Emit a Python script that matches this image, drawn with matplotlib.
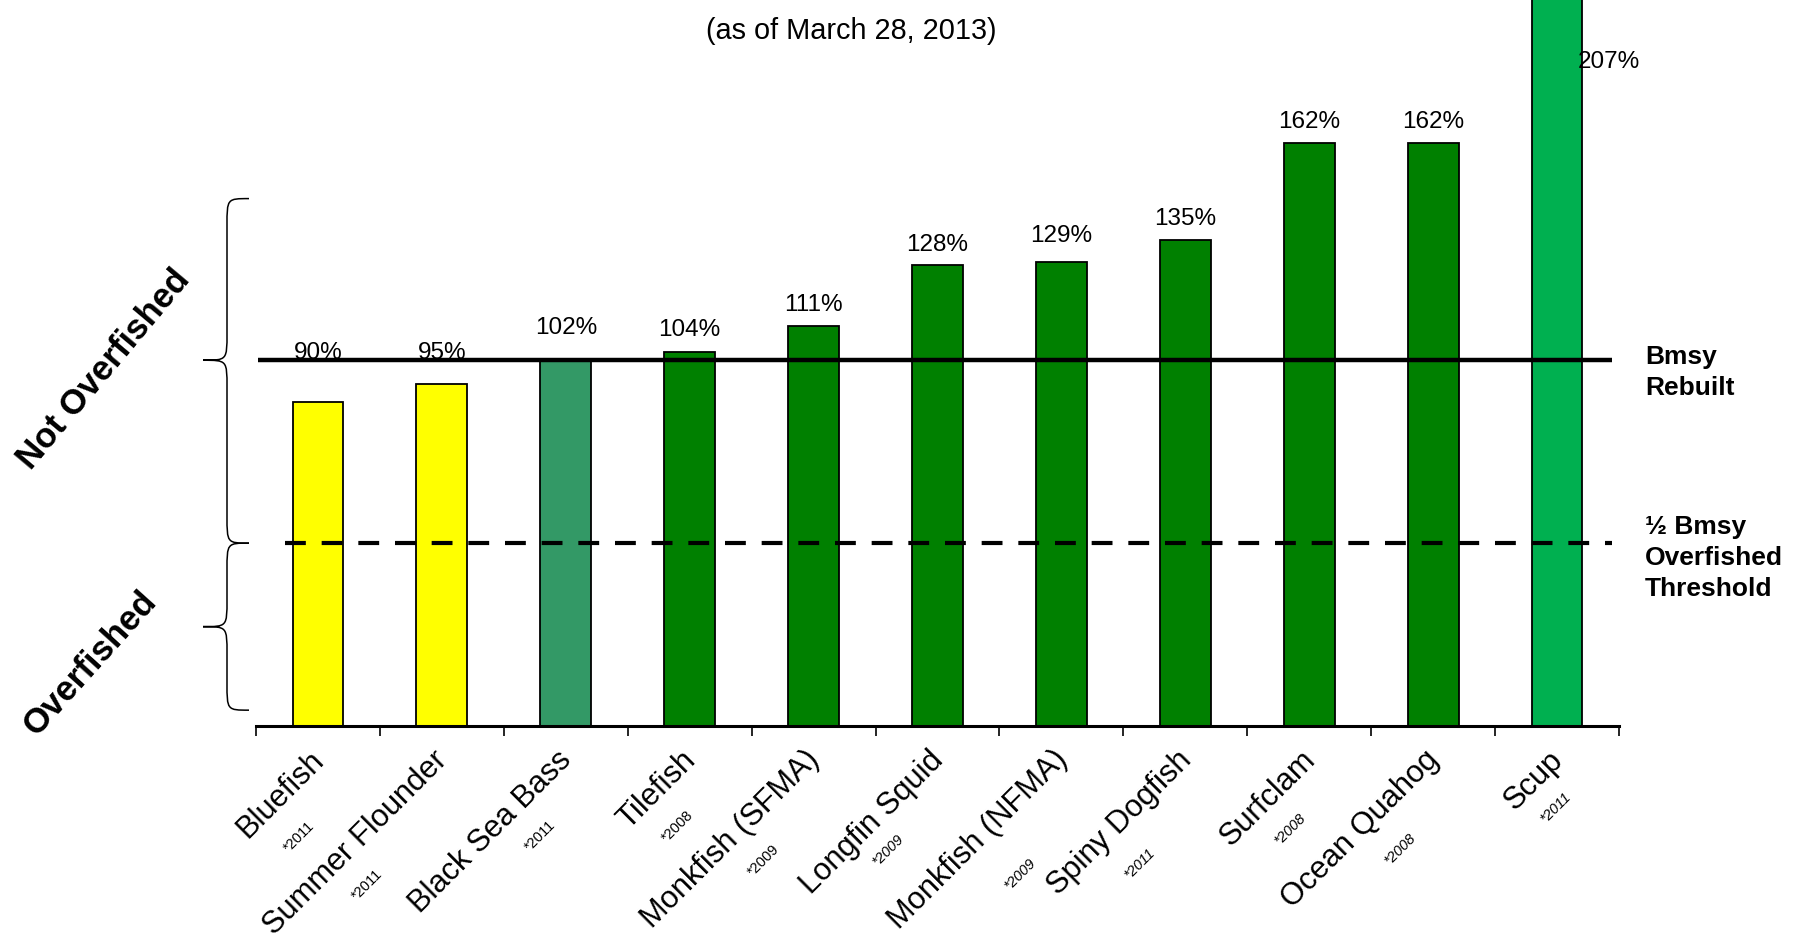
import matplotlib
matplotlib.use("Agg")
import matplotlib.pyplot as plt
import matplotlib.transforms as mtransforms
from matplotlib.path import Path
from matplotlib.patches import PathPatch
import numpy as np

plt.rcParams["font.family"] = ["Liberation Sans", "DejaVu Sans"]

# ── data ─────────────────────────────────────────────────────────────────────
species = ["Bluefish", "Summer Flounder", "Black Sea Bass", "Tilefish",
           "Monkfish (SFMA)", "Longfin Squid", "Monkfish (NFMA)",
           "Spiny Dogfish", "Surfclam", "Ocean Quahog", "Scup"]
assess_year = ["*2011", "*2011", "*2011", "*2008", "*2009", "*2009",
               "*2009", "*2011", "*2008", "*2008", "*2011"]
pct_bmsy = [90, 95, 102, 104, 111, 128, 129, 135, 162, 162, 207]
bar_colors = ["#FFFF00", "#FFFF00", "#339966", "#008000", "#008000", "#008000",
              "#008000", "#008000", "#008000", "#008000", "#00B050"]

bmsy_level = 101.6      # Bmsy line as drawn
half_level = 50.8       # 1/2 Bmsy line as drawn

# ── layout (pixels of the 1809x940 canvas) ──────────────────────────────────
W, H = 1809, 940
PX = 72 / 100  # px -> points
label_off = [(0, 31), (0, 18), (0, 18), (0, 11), (0, 11), (0, 10),
             (0, 14), (0, 11), (0, 11), (0, 11), (37, -63)]
fn_shift = [17, 22, -32, 11, -8, 9, -5, 15, 6, -14, 4]
fn_perp = [6, 0, 0, 3, 0, -6, 16, 5, 0, 4, -3]
fn_italic = [False] * 5 + [True] * 6

fig = plt.figure(figsize=(W / 100, H / 100), dpi=100)
ax_bottom = 726
ax = fig.add_axes([256 / W, 1 - ax_bottom / H, (1619 - 256) / W, ax_bottom / H])
ax.set_xlim(-0.5, len(species) - 0.5)
ax.set_ylim(0, ax_bottom / 3.6)

x = np.arange(len(species))
ax.bar(x, pct_bmsy, width=0.41, color=bar_colors, edgecolor="black",
       linewidth=1.3, zorder=2)

for i, v in enumerate(pct_bmsy):
    dx, dy = label_off[i]
    ax.annotate(f"{v}%", xy=(i, v), xytext=(dx, dy), textcoords="offset points",
                ha="center", va="baseline", fontsize=17.5, annotation_clip=False)

# reference lines
ax.plot([-0.484, 10.444], [bmsy_level, bmsy_level], color="black", lw=3.2,
        solid_capstyle="butt", zorder=3, clip_on=False)
ax.plot([-0.266, 10.444], [half_level, half_level], color="black", lw=3.0,
        dashes=(5, 3.8), zorder=3, clip_on=False)

# va="baseline" on multi-line text pins the last line
ax.text(10.71, bmsy_level - 9.7, "Bmsy\nRebuilt", fontsize=19, fontweight="bold",
        ha="left", va="baseline", linespacing=1.38, clip_on=False)
ax.text(10.71, half_level - 14.7, "½ Bmsy\nOverfished\nThreshold", fontsize=19,
        fontweight="bold", ha="left", va="baseline", linespacing=1.38, clip_on=False)

# axis styling
for s in ["left", "right", "top"]:
    ax.spines[s].set_visible(False)
ax.spines["bottom"].set_linewidth(2.2)
ax.set_yticks([])
ax.set_xticks(np.arange(-0.5, len(species)))
ax.set_xticklabels([])
ax.tick_params(axis="x", direction="out", length=7.2, width=1.2)

# category labels with assessment year notes
fig.canvas.draw()
renderer = fig.canvas.get_renderer()
c = np.sqrt(0.5)
anc_x, anc_y = 7, -35
for i, (name, note) in enumerate(zip(species, assess_year)):
    t = ax.annotate(name, xy=(i, 0), xytext=(anc_x * PX, anc_y * PX),
                    textcoords="offset points", rotation=45, ha="right",
                    va="baseline", rotation_mode="anchor", fontsize=22.2,
                    annotation_clip=False)
    w, _, _ = renderer.get_text_width_height_descent(name, t.get_fontproperties(), ismath=False)
    s = w / 2 + fn_shift[i]
    a = 30 + fn_perp[i]
    ox = anc_x - s * c + a * c
    oy = anc_y - s * c - a * c
    ax.annotate(note, xy=(i, 0), xytext=(ox * PX, oy * PX),
                textcoords="offset points", rotation=45, ha="center",
                va="center", rotation_mode="anchor", fontsize=10.5,
                style="italic" if fn_italic[i] else "normal",
                annotation_clip=False)

# braces on the left
def brace(y_top, y_tip, y_bot, x_tip=203, x_spine=227, x_end=249, r=7.5):
    verts = [(x_end, y_top),
             (x_spine, y_top), (x_spine, y_top), (x_spine, y_top - r),
             (x_spine, y_tip + r),
             (x_spine, y_tip), (x_spine, y_tip), (x_tip, y_tip),
             (x_spine, y_tip), (x_spine, y_tip), (x_spine, y_tip - r),
             (x_spine, y_bot + r),
             (x_spine, y_bot), (x_spine, y_bot), (x_end, y_bot)]
    codes = [Path.MOVETO, Path.CURVE4, Path.CURVE4, Path.CURVE4, Path.LINETO,
             Path.CURVE4, Path.CURVE4, Path.CURVE4,
             Path.CURVE4, Path.CURVE4, Path.CURVE4, Path.LINETO,
             Path.CURVE4, Path.CURVE4, Path.CURVE4]
    trans = mtransforms.blended_transform_factory(mtransforms.IdentityTransform(), ax.transData)
    patch = PathPatch(Path(verts, codes), facecolor="none", edgecolor="black",
                      lw=1.1, transform=trans, clip_on=False)
    fig.add_artist(patch)

brace(146.5, bmsy_level, half_level)
brace(half_level, (half_level + 4.4) / 2, 4.4)

fig.text(104 / W, 1 - 369 / H, "Not Overfished", rotation=50, ha="center",
         va="center", fontsize=25, fontweight="bold")
fig.text(90 / W, 1 - 663 / H, "Overfished", rotation=48, ha="center",
         va="center", fontsize=25, fontweight="bold")

fig.text(851.5 / W, 1 - 39.3 / H, "(as of March 28, 2013)", ha="center",
         va="baseline", fontsize=20.8)

fig.savefig("out.png", dpi=100)
